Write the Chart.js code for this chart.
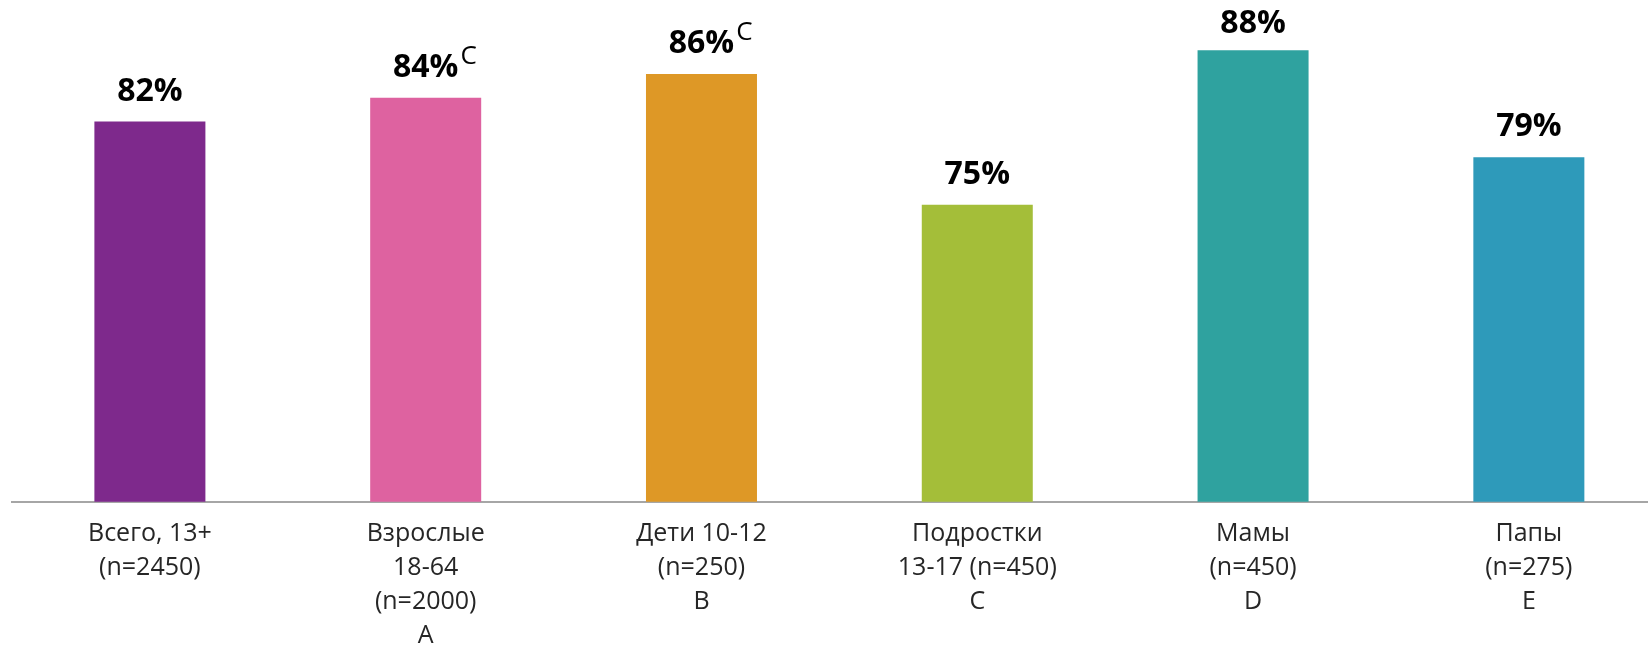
<!DOCTYPE html>
<html>
<head>
<meta charset="utf-8">
<script src="https://cdn.jsdelivr.net/npm/chart.js@4"></script>
<style>
  html, body { margin: 0; padding: 0; background: #fff; }
</style>
</head>
<body>
<canvas id="myChartBar" width="1648" height="647"></canvas>
<script>
// categories (multi-line axis labels), values in %, significance marks
var categories = [
  ["Всего, 13+", "(n=2450)"],
  ["Взрослые", "18-64", "(n=2000)", "A"],
  ["Дети 10-12", "(n=250)", "B"],
  ["Подростки", "13-17 (n=450)", "C"],
  ["Мамы", "(n=450)", "D"],
  ["Папы", "(n=275)", "E"]
];
var values = [82, 84, 86, 75, 88, 79];
var sigMarks = ["", "C", "C", "", "", ""];
var barColors = ["#7E298C", "#DE62A0", "#DE9826", "#A4BE39", "#2FA29F", "#2E9ABA"];

Chart.defaults.font.family = '"Open Sans", sans-serif';

// VALUE LABELS above bars
var valueLabels = {
  id: 'valueLabels',
  afterDatasetsDraw: function(chart) {
    var ctx = chart.ctx;
    var meta = chart.getDatasetMeta(0);
    ctx.save();
    meta.data.forEach(function(bar, i) {
      var y = Math.max(bar.y - 21, 33); // keep the top label inside the picture
      var txt = values[i] + '%';
      ctx.font = 'bold 32px "Open Sans"';
      ctx.fillStyle = '#000';
      ctx.textAlign = 'center';
      ctx.textBaseline = 'alphabetic';
      ctx.fillText(txt, bar.x, y);
      if (sigMarks[i]) {
        var w = ctx.measureText(txt).width;
        ctx.font = '26px "Open Sans"';
        ctx.textAlign = 'left';
        ctx.fillText(sigMarks[i], bar.x + w / 2 + 2, y - 13);
      }
    });
    ctx.restore();
  }
};

// BAR CHART
new Chart(document.getElementById("myChartBar"), {
  type: 'bar',
  data: {
    datasets: [{
      data: values.map(function(v, i) { return {x: i, y: v}; }),
      backgroundColor: barColors,
      barPercentage: 0.4025,
      categoryPercentage: 1
    }]
  },
  options: {
    responsive: false,
    animation: false,
    devicePixelRatio: 1,
    layout: { padding: { left: 12, right: 0, top: 0, bottom: 0 } },
    plugins: {
      legend: { display: false },
      tooltip: { enabled: false }
    },
    scales: {
      x: {
        type: 'linear',
        offset: false,
        min: -0.5,
        max: 5.432,
        grid: { display: false, drawTicks: false, offset: false },
        border: { display: true, color: '#A6A6A6', width: 2 },
        afterBuildTicks: function(s) {
          s.ticks = categories.map(function(c, i) { return {value: i}; });
        },
        afterFit: function(s) { s.height = 145.3; },
        ticks: {
          autoSkip: false,
          maxRotation: 0,
          padding: 15,
          color: '#262626',
          font: { size: 25, lineHeight: 1.36 },
          callback: function(v) { return categories[v]; }
        }
      },
      y: { display: false, min: 50, max: 92.23 }
    }
  },
  plugins: [valueLabels]
});
</script>
</body>
</html>
